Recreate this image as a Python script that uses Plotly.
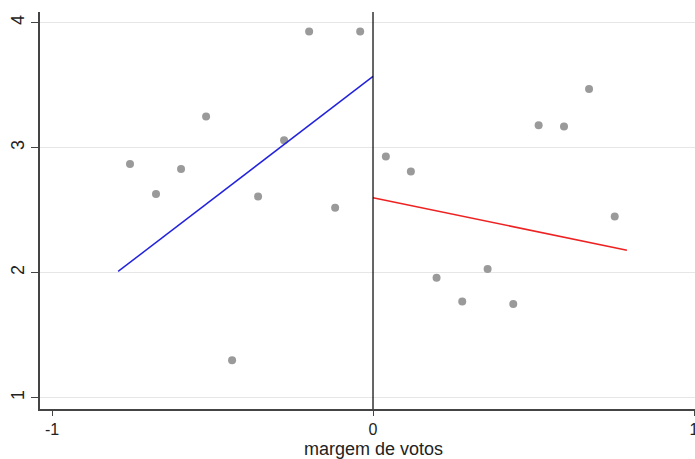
import plotly.graph_objects as go

# Scatter points (binned means), left of cutoff
left_x = [-0.757, -0.676, -0.598, -0.520, -0.439, -0.358, -0.277, -0.199, -0.118, -0.040]
left_y = [2.87, 2.63, 2.83, 3.25, 1.30, 2.61, 3.06, 3.93, 2.52, 3.93]
# right of cutoff
right_x = [0.040, 0.118, 0.198, 0.278, 0.357, 0.437, 0.516, 0.595, 0.673, 0.753]
right_y = [2.93, 2.81, 1.96, 1.77, 2.03, 1.75, 3.18, 3.17, 3.47, 2.45]

# Fitted lines (endpoints)
fit_left_x = [-0.794, 0.0]
fit_left_y = [2.01, 3.57]
fit_right_x = [0.0, 0.791]
fit_right_y = [2.60, 2.18]

x_ticks = [-1, 0, 1]
y_ticks = [1, 2, 3, 4]
x_title = "margem de votos"

fig = go.Figure()
fig.add_trace(go.Scatter(x=left_x + right_x, y=left_y + right_y, mode="markers",
                         marker=dict(size=8, color="#9a9a9a"), showlegend=False))
fig.add_trace(go.Scatter(x=fit_left_x, y=fit_left_y, mode="lines",
                         line=dict(color="#2222dd", width=1.5), showlegend=False))
fig.add_trace(go.Scatter(x=fit_right_x, y=fit_right_y, mode="lines",
                         line=dict(color="#ee2222", width=1.5), showlegend=False))

fig.add_shape(type="line", x0=0, x1=0, y0=0, y1=1, xref="x", yref="paper",
              line=dict(color="black", width=1.2))

fig.add_annotation(text=x_title, x=0, xref="x", y=0, yref="paper",
                   xanchor="center", yanchor="bottom", yshift=-51, showarrow=False,
                   font=dict(size=18), borderpad=0)

font = dict(family="Liberation Sans, Arial, sans-serif", size=17, color="#222222")
fig.update_layout(
    width=695, height=459,
    margin=dict(l=40, r=0, t=12, b=50),
    paper_bgcolor="white", plot_bgcolor="white",
    font=font,
    xaxis=dict(range=[-1.0374, 1.0031], tickvals=x_ticks, ticktext=[str(v) for v in x_ticks],
               showgrid=False, zeroline=False, showline=True, linecolor="#444444", linewidth=1.5,
               ticks="outside", ticklen=5, tickcolor="#444444", ticklabeloverflow="allow",
               tickfont=dict(size=16), automargin=False),
    yaxis=dict(range=[0.9096, 4.0856], tickvals=y_ticks, ticktext=[str(v) for v in y_ticks],
               showgrid=True, gridcolor="#e6e6e6", gridwidth=1.2, zeroline=False,
               showline=True, linecolor="#444444", linewidth=1.5,
               ticks="outside", ticklen=7, tickcolor="#444444", tickangle=-90,
               tickfont=dict(size=18), automargin=False),
)

fig.write_html("out.html")
